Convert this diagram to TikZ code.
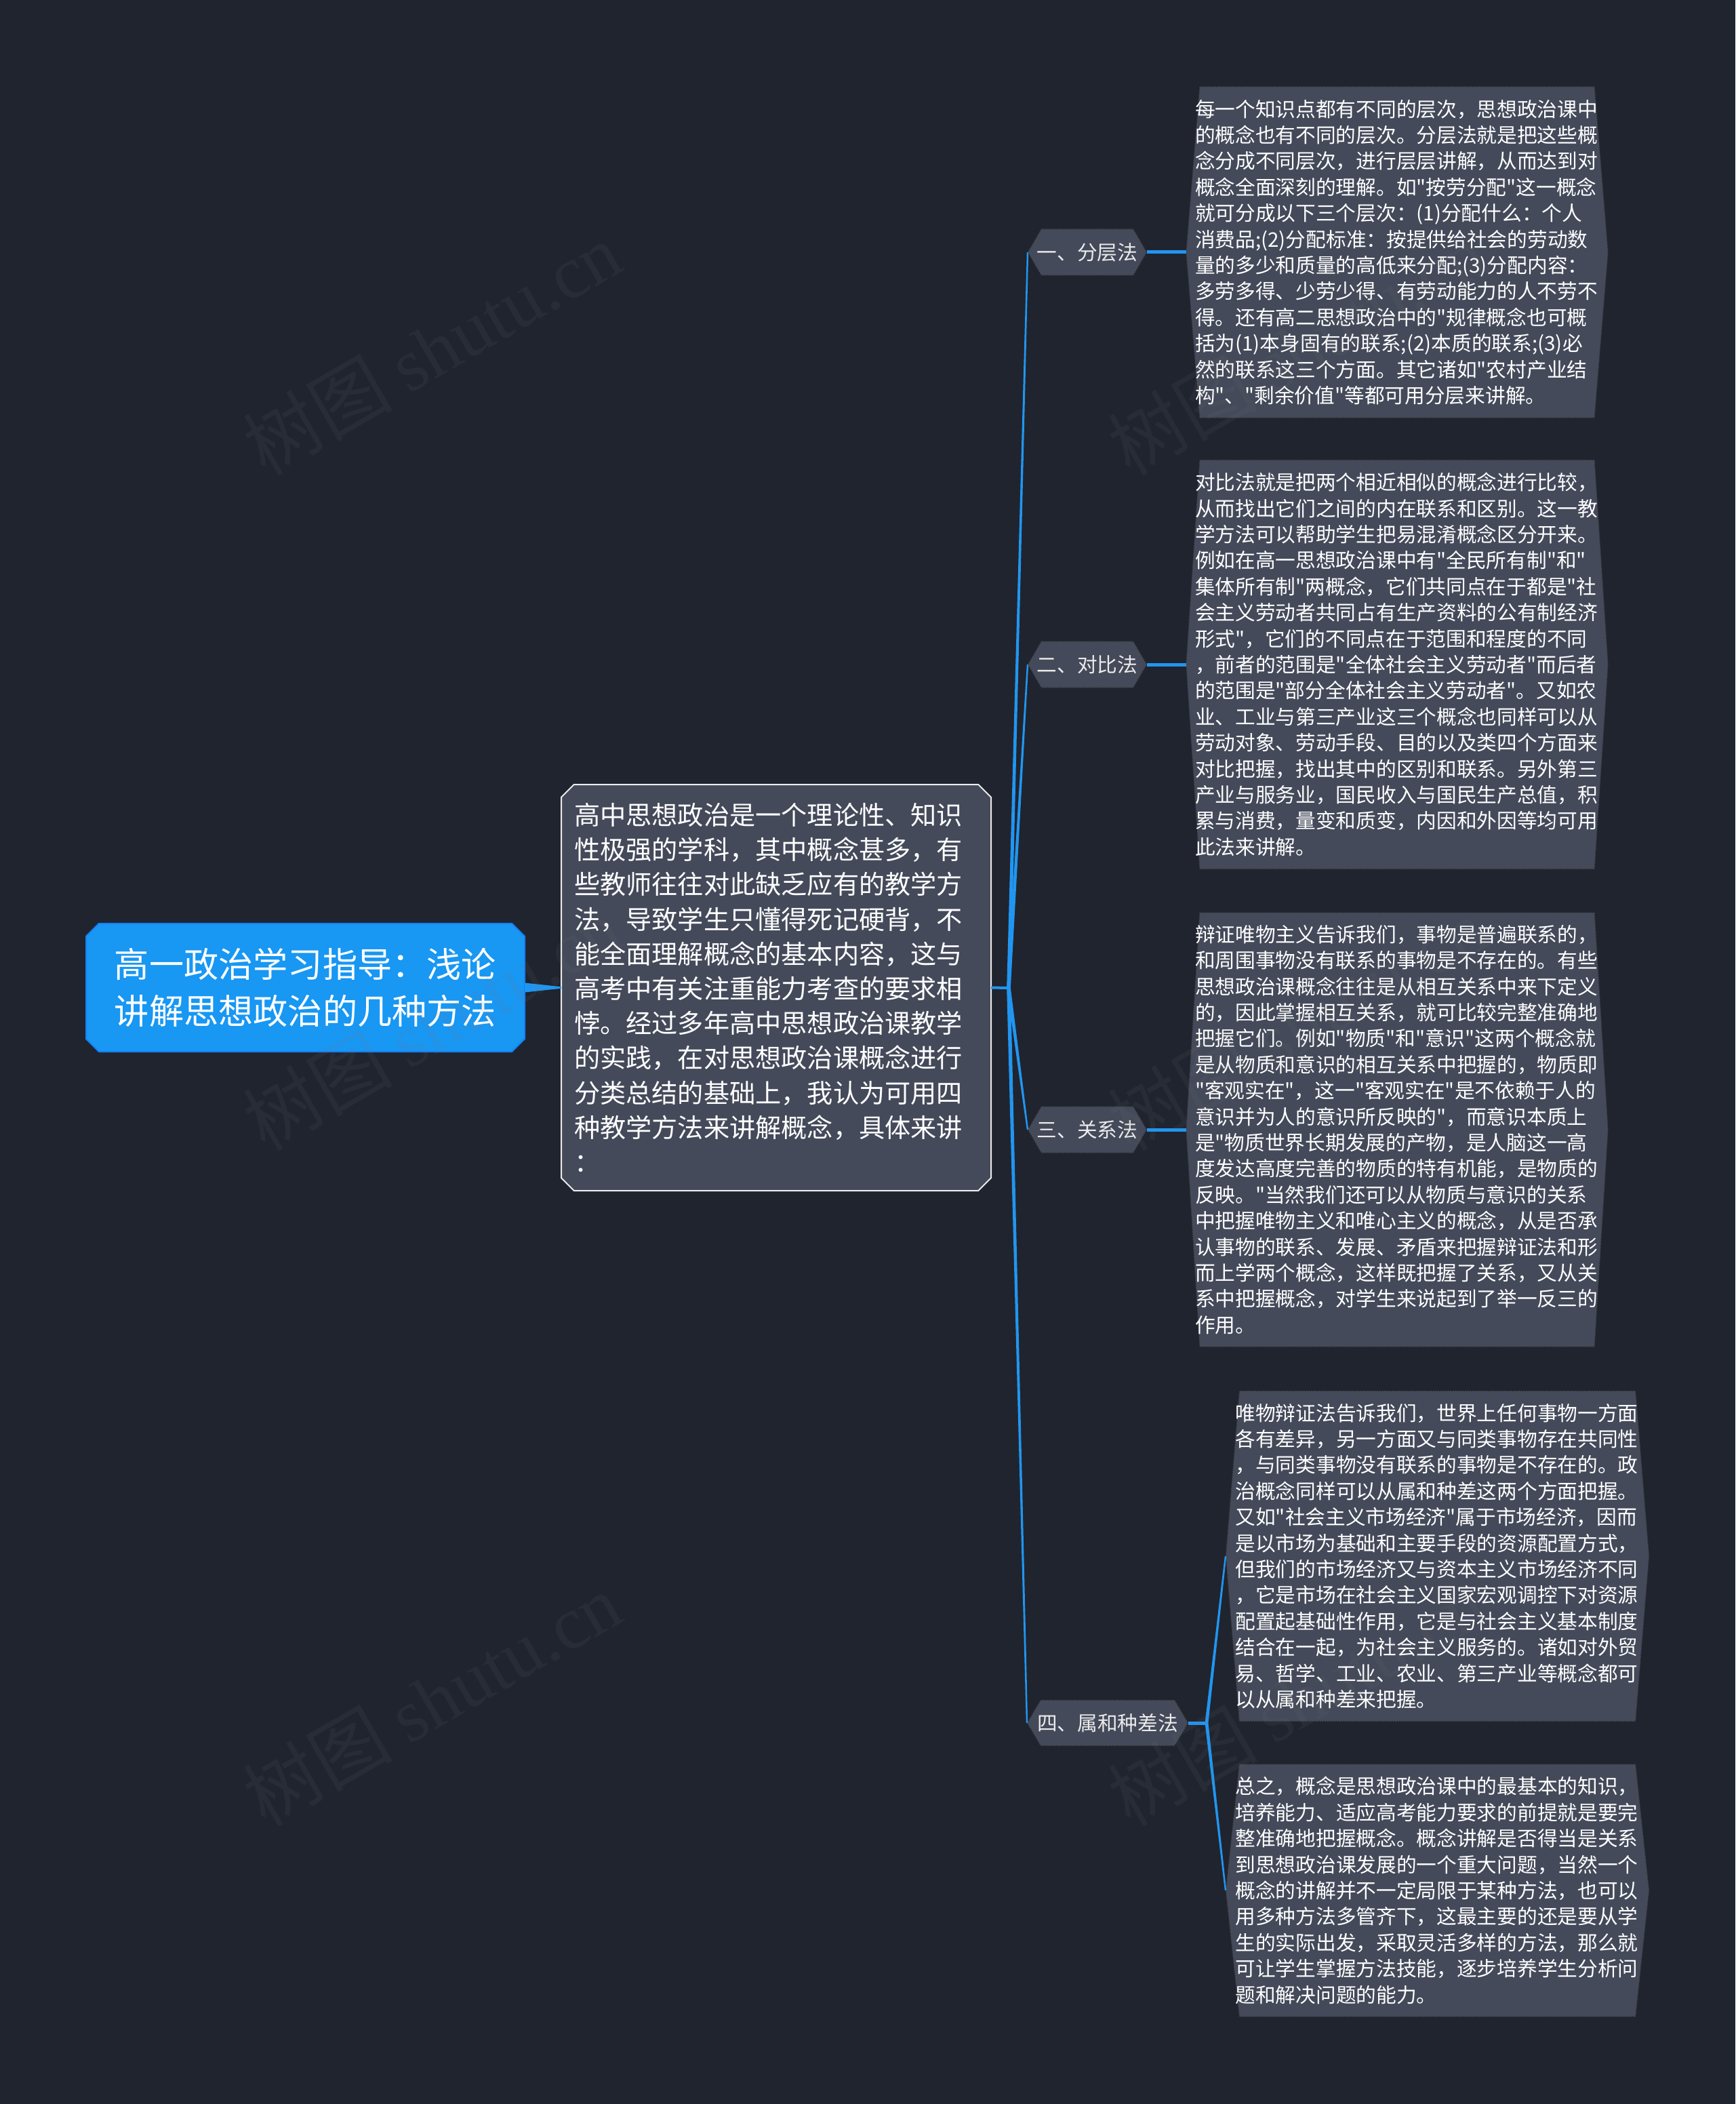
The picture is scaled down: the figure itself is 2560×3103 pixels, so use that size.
\documentclass[tikz,border=0pt]{standalone}
\usepackage{fontspec}
\setmainfont{Noto Sans CJK SC}[Ligatures=TeXOff]
\newfontfamily\wmlatin{Liberation Serif}
\usetikzlibrary{calc,backgrounds,shapes.misc}
\definecolor{bgdark}{HTML}{20242F}
\definecolor{boxgray}{HTML}{444A5A}
\definecolor{rootblue}{HTML}{1897F3}
\definecolor{linkblue}{HTML}{2196F0}
\tikzset{
  leaf/.style n args={2}{minimum width=#1,minimum height=#2,inner sep=0pt,outer sep=0pt,
    text=white,text width=298pt,align=left,font=\fontsize{14.85pt}{19.2pt}\selectfont},
  stem/.style n args={2}{minimum width=#1,minimum height=#2,inner sep=0pt,outer sep=0pt,
    text=white!92!black,align=center,font=\fontsize{14.85pt}{19.2pt}\selectfont},
  hexline/.style={fill=boxgray,draw=black!85,line width=.8pt,densely dotted},
  branch/.style={draw=linkblue,line width=2.5pt},
  watermark/.style={rotate=30,text=gray,text opacity=.05,font=\fontsize{55pt}{60pt}\selectfont}
}
\newcommand{\taperlink}[3]{\fill[linkblue] ($(#1)!#3!90:(#2)$) -- ($(#2)!.6pt!-90:(#1)$) -- ($(#2)!.6pt!90:(#1)$) -- ($(#1)!#3!-90:(#2)$) -- cycle;}
\begin{document}
\begin{tikzpicture}[x=.5pt,y=-.5pt]
\begin{scope}[on background layer]
\fill[bgdark] (0,0) rectangle (2560,3103);
\end{scope}
\useasboundingbox (0,0) rectangle (2560,3103);
\node[chamfered rectangle,chamfered rectangle xsep=4.6pt,chamfered rectangle ysep=4.8pt,minimum width=323.5pt,minimum height=94.5pt,inner sep=0pt,outer sep=0pt,fill=rootblue,draw=rootblue!85!blue,line width=1pt,text=white,align=left,font=\fontsize{25.6pt}{34.25pt}\selectfont] (root) at (450.5,1456.5) {高一政治学习指导：浅论\\讲解思想政治的几种方法};
\node[chamfered rectangle,chamfered rectangle xsep=4.6pt,chamfered rectangle ysep=4.8pt,minimum width=317pt,minimum height=299.5pt,inner sep=0pt,outer sep=0pt,fill=boxgray,draw=white!92!black,line width=1pt,text=white,text width=298pt,align=left,font=\fontsize{19.1pt}{25.6pt}\selectfont] (desc) at (1145,1456.5) {高中思想政治是一个理论性、知识\\
性极强的学科，其中概念甚多，有\\
些教师往往对此缺乏应有的教学方\\
法，导致学生只懂得死记硬背，不\\
能全面理解概念的基本内容，这与\\
高考中有关注重能力考查的要求相\\
悖。经过多年高中思想政治课教学\\
的实践，在对思想政治课概念进行\\
分类总结的基础上，我认为可用四\\
种教学方法来讲解概念，具体来讲\\
：};
\node[stem={88pt}{34.5pt}] (stemA) at (1604,372) {一、分层法};
\node[stem={88pt}{34.5pt}] (stemB) at (1604,980) {二、对比法};
\node[stem={88pt}{34.5pt}] (stemC) at (1604,1666) {三、关系法};
\node[stem={119pt}{34pt}] (stemD) at (1634,2541) {四、属和种差法};
\node[leaf={311.5pt}{244.5pt}] (leafA) at (2061,372) {每一个知识点都有不同的层次，思想政治课中\\
的概念也有不同的层次。分层法就是把这些概\\
念分成不同层次，进行层层讲解，从而达到对\\
概念全面深刻的理解。如"按劳分配"这一概念\\
就可分成以下三个层次：(1)分配什么：个人\\
消费品;(2)分配标准：按提供给社会的劳动数\\
量的多少和质量的高低来分配;(3)分配内容：\\
多劳多得、少劳少得、有劳动能力的人不劳不\\
得。还有高二思想政治中的"规律概念也可概\\
括为(1)本身固有的联系;(2)本质的联系;(3)必\\
然的联系这三个方面。其它诸如"农村产业结\\
构"、"剩余价值"等都可用分层来讲解。};
\node[leaf={311.5pt}{302pt}] (leafB) at (2061,980) {对比法就是把两个相近相似的概念进行比较，\\
从而找出它们之间的内在联系和区别。这一教\\
学方法可以帮助学生把易混淆概念区分开来。\\
例如在高一思想政治课中有"全民所有制"和"\\
集体所有制"两概念，它们共同点在于都是"社\\
会主义劳动者共同占有生产资料的公有制经济\\
形式"，它们的不同点在于范围和程度的不同\\
，前者的范围是"全体社会主义劳动者"而后者\\
的范围是"部分全体社会主义劳动者"。又如农\\
业、工业与第三产业这三个概念也同样可以从\\
劳动对象、劳动手段、目的以及类四个方面来\\
对比把握，找出其中的区别和联系。另外第三\\
产业与服务业，国民收入与国民生产总值，积\\
累与消费，量变和质变，内因和外因等均可用\\
此法来讲解。};
\node[leaf={311.5pt}{320.5pt}] (leafC) at (2061,1666) {辩证唯物主义告诉我们，事物是普遍联系的，\\
和周围事物没有联系的事物是不存在的。有些\\
思想政治课概念往往是从相互关系中来下定义\\
的，因此掌握相互关系，就可比较完整准确地\\
把握它们。例如"物质"和"意识"这两个概念就\\
是从物质和意识的相互关系中把握的，物质即\\
"客观实在"，这一"客观实在"是不依赖于人的\\
意识并为人的意识所反映的"，而意识本质上\\
是"物质世界长期发展的产物，是人脑这一高\\
度发达高度完善的物质的特有机能，是物质的\\
反映。"当然我们还可以从物质与意识的关系\\
中把握唯物主义和唯心主义的概念，从是否承\\
认事物的联系、发展、矛盾来把握辩证法和形\\
而上学两个概念，这样既把握了关系，又从关\\
系中把握概念，对学生来说起到了举一反三的\\
作用。};
\node[leaf={312.5pt}{244pt}] (leafD) at (2120.5,2295) {唯物辩证法告诉我们，世界上任何事物一方面\\
各有差异，另一方面又与同类事物存在共同性\\
，与同类事物没有联系的事物是不存在的。政\\
治概念同样可以从属和种差这两个方面把握。\\
又如"社会主义市场经济"属于市场经济，因而\\
是以市场为基础和主要手段的资源配置方式，\\
但我们的市场经济又与资本主义市场经济不同\\
，它是市场在社会主义国家宏观调控下对资源\\
配置起基础性作用，它是与社会主义基本制度\\
结合在一起，为社会主义服务的。诸如对外贸\\
易、哲学、工业、农业、第三产业等概念都可\\
以从属和种差来把握。};
\node[leaf={312.5pt}{186.5pt}] (leafE) at (2120.5,2788) {总之，概念是思想政治课中的最基本的知识，\\
培养能力、适应高考能力要求的前提就是要完\\
整准确地把握概念。概念讲解是否得当是关系\\
到思想政治课发展的一个重大问题，当然一个\\
概念的讲解并不一定局限于某种方法，也可以\\
用多种方法多管齐下，这最主要的还是要从学\\
生的实际出发，采取灵活多样的方法，那么就\\
可让学生掌握方法技能，逐步培养学生分析问\\
题和解决问题的能力。};
\begin{scope}[on background layer]
\foreach \n in {stemA,stemB,stemC,stemD,leafA,leafB,leafC,leafD,leafE}
  \draw[hexline] (\n.west) -- ($(\n.north west)+(20,0)$) -- ($(\n.north east)+(-20,0)$) -- (\n.east) -- ($(\n.south east)+(-20,0)$) -- ($(\n.south west)+(20,0)$) -- cycle;
\end{scope}
\coordinate (hubM) at (1488,1457);
\coordinate (hubD) at (1780,2541);
\taperlink{root.east}{desc.west}{3.5pt}
\draw[linkblue,line width=2pt] (desc.east) -- (hubM);
\foreach \n in {stemA,stemB,stemC,stemD}\taperlink{hubM}{\n.west}{1.4pt}
\draw[branch] (stemA.east) -- (leafA.west);
\draw[branch] (stemB.east) -- (leafB.west);
\draw[branch] (stemC.east) -- (leafC.west);
\draw[branch] (stemD.east) -- (hubD);
\foreach \n in {leafD,leafE}\taperlink{hubD}{\n.west}{1.2pt}
\foreach \x/\c in {637/a,1913/b}\foreach \y/\r in {514/a,1510/b,2506/c}
  \node[watermark] (mark\c\r) at (\x,\y) {树图 {\wmlatin shutu.cn}};
\end{tikzpicture}
\end{document}
